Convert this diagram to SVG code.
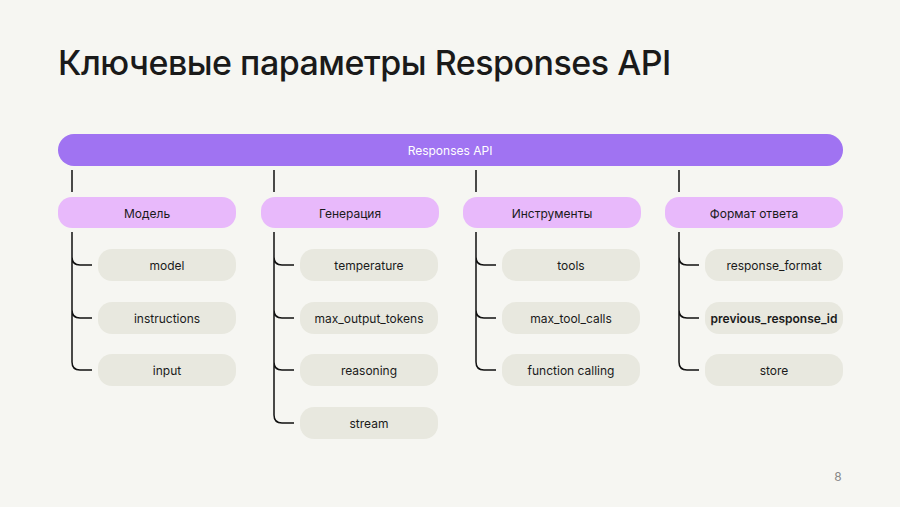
<svg xmlns="http://www.w3.org/2000/svg" width="900" height="507" viewBox="0 0 900 507">
<style>
text{font-family:Inter,"Noto Sans",sans-serif;fill:#1a1a1a;text-anchor:middle;dominant-baseline:central}
.cat{fill:#e8b9fb}.item{fill:#e8e8df}.t{font-size:12px}
.c path{fill:none;stroke:#111;stroke-width:1.5}
</style>
<rect width="900" height="507" fill="#f6f6f2"/>
<text x="58" y="62" style="font-size:34px;font-weight:500;text-anchor:start;letter-spacing:-0.5px">Ключевые параметры Responses API</text>
<g id="root"><rect x="58" y="134" width="785" height="32" rx="16" fill="#a073f2"/><text x="450" y="150" class="t" style="fill:#fff">Responses API</text></g>
<g class="c" id="connectors">
<path d="M72 170V192M274 170V192M476 170V192M679 170V192"/>
<path d="M72 232V257Q72 265 80 265H92M72 257V310Q72 318 80 318H92M72 310V362Q72 370 80 370H92"/>
<path d="M274 232V257Q274 265 282 265H294M274 310Q274 318 282 318H294M274 362Q274 370 282 370H294M274 257V415Q274 423 282 423H294"/>
<path d="M476 232V257Q476 265 484 265H496M476 310Q476 318 484 318H496M476 257V362Q476 370 484 370H496"/>
<path d="M679 232V257Q679 265 687 265H699M679 310Q679 318 687 318H699M679 257V362Q679 370 687 370H699"/>
</g>
<g id="c1"><rect class="cat" x="58" y="197" width="178" height="31" rx="14"/><text class="t" x="147" y="213">Модель</text></g>
<g id="c2"><rect class="cat" x="261" y="197" width="178" height="31" rx="14"/><text class="t" x="350" y="213">Генерация</text></g>
<g id="c3"><rect class="cat" x="463" y="197" width="178" height="31" rx="14"/><text class="t" x="552" y="213">Инструменты</text></g>
<g id="c4"><rect class="cat" x="665" y="197" width="178" height="31" rx="14"/><text class="t" x="754" y="213">Формат ответа</text></g>
<g id="i1"><rect class="item" x="98" y="249" width="138" height="32" rx="14"/><text class="t" x="167" y="265">model</text></g>
<g id="i2"><rect class="item" x="98" y="302" width="138" height="32" rx="14"/><text class="t" x="167" y="318">instructions</text></g>
<g id="i3"><rect class="item" x="98" y="354" width="138" height="32" rx="14"/><text class="t" x="167" y="370">input</text></g>
<g id="i4"><rect class="item" x="300" y="249" width="138" height="32" rx="14"/><text class="t" x="369" y="265">temperature</text></g>
<g id="i5"><rect class="item" x="300" y="302" width="138" height="32" rx="14"/><text class="t" x="369" y="318">max_output_tokens</text></g>
<g id="i6"><rect class="item" x="300" y="354" width="138" height="32" rx="14"/><text class="t" x="369" y="370">reasoning</text></g>
<g id="i7"><rect class="item" x="300" y="407" width="138" height="32" rx="14"/><text class="t" x="369" y="423">stream</text></g>
<g id="i8"><rect class="item" x="502" y="249" width="138" height="32" rx="14"/><text class="t" x="571" y="265">tools</text></g>
<g id="i9"><rect class="item" x="502" y="302" width="138" height="32" rx="14"/><text class="t" x="571" y="318">max_tool_calls</text></g>
<g id="i10"><rect class="item" x="502" y="354" width="138" height="32" rx="14"/><text class="t" x="571" y="370">function calling</text></g>
<g id="i11"><rect class="item" x="705" y="249" width="138" height="32" rx="14"/><text class="t" x="774" y="265">response_format</text></g>
<g id="i12"><rect class="item" x="705" y="302" width="138" height="32" rx="14"/><text class="t" x="774" y="318" style="font-weight:600">previous_response_id</text></g>
<g id="i13"><rect class="item" x="705" y="354" width="138" height="32" rx="14"/><text class="t" x="774" y="370">store</text></g>
<text x="838" y="476" style="font-size:12px;fill:#888">8</text>
</svg>
